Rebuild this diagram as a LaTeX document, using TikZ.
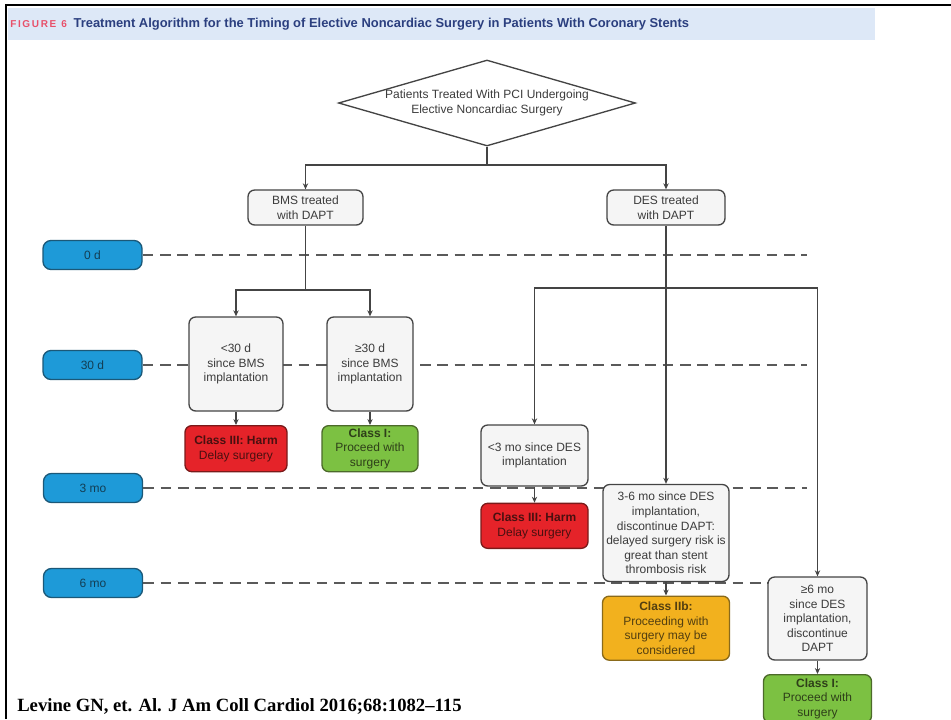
\documentclass[tikz,border=0pt]{standalone}
\usepackage{fontspec}
\setmainfont{Liberation Sans}
\newfontfamily\citefont{Liberation Serif}
\usetikzlibrary{shapes.geometric, arrows.meta, positioning}
\definecolor{titlebg}{HTML}{DDE8F7}
\definecolor{titlered}{HTML}{E8506A}
\definecolor{titleblue}{HTML}{2B3F7F}
\definecolor{lineclr}{HTML}{444444}
\definecolor{dashclr}{HTML}{5A5A5A}
\definecolor{boxfill}{HTML}{F5F5F5}
\definecolor{boxtext}{HTML}{3C3C3C}
\definecolor{timefill}{HTML}{1E9AD8}
\definecolor{timeline}{HTML}{1B5878}
\definecolor{harmfill}{HTML}{E52329}
\definecolor{harmline}{HTML}{7A1A1A}
\definecolor{okfill}{HTML}{7CC142}
\definecolor{okline}{HTML}{4C6A2A}
\definecolor{maybefill}{HTML}{F2B11E}
\definecolor{maybeline}{HTML}{8A6A1A}
\newcommand\flowfont{\fontsize{9}{10.9}\selectfont}
\tikzset{
boxsize/.style 2 args={minimum width=#1*0.75pt, minimum height=#2*0.75pt},
phase/.style={
    rectangle,
    draw=lineclr,
    fill=boxfill,
    rounded corners=5pt,
    line width=1pt,
    align=center,
    inner sep=1pt,
    text=boxtext,
    font=\flowfont
},
timebox/.style={
    rectangle,
    draw=timeline,
    fill=timefill,
    rounded corners=6pt,
    line width=1pt,
    boxsize={99}{29},
    text=timeline!70!black,
    font=\flowfont
},
harm/.style={phase, draw=harmline, fill=harmfill, text=harmline!60!black},
benefit/.style={phase, draw=okline, fill=okfill, text=okline!60!black},
maybe/.style={phase, draw=maybeline, fill=maybefill, text=maybeline!60!black},
timeline/.style={dashclr, line width=1.5pt, dash pattern=on 8pt off 5pt}
}

\begin{document}
\begin{tikzpicture}[
        x=0.75pt, y=-0.75pt,
        >={Stealth[length=4.5pt, width=4pt]},
        node distance=4pt
    ]
    \useasboundingbox (0,0) rectangle (951,719);

    % heading and frame
    \fill[titlebg] (8,8) rectangle (875,40);
    \draw[line width=2pt] (6,719) -- (6,5) -- (951,5);
    \node[anchor=west, inner sep=0pt, font=\fontsize{9.7}{11}\selectfont\bfseries] (title) at (10,24)
        {\textcolor{titlered}{\fontsize{7.5}{9}\selectfont F\,I\,G\,U\,R\,E\enspace 6}\hspace{5pt}\textcolor{titleblue}{Treatment Algorithm for the Timing of Elective Noncardiac Surgery in Patients With Coronary Stents}};
    \node[anchor=base west, inner sep=0pt, font=\citefont\fontsize{14}{16}\selectfont\bfseries] (cite) at (17,711)
        {Levine GN, et. Al. J Am Coll Cardiol 2016;68:1082–115};

    % time marks
    \node[timebox] (t0) at (92.5,255) {0 d};
    \node[timebox] (t30) at (92.5,365) {30 d};
    \node[timebox] (t3) at (93,488) {3 mo};
    \node[timebox] (t6) at (93,583) {6 mo};
    \coordinate (e0) at (807,254);
    \coordinate (e30) at (807,363);
    \coordinate (e3) at (807,486);
    \coordinate (e6) at (807,581);
    \draw[timeline] (t0.east) -- (t0.east -| e0);
    \draw[timeline] (t30.east) -- (t30.east -| e30);
    \draw[timeline] (t3.east) -- (t3.east -| e3);
    \draw[timeline] (t6.east) -- (t6.east -| e6);

    % node placement
    \node[diamond, draw=lineclr, fill=white, line width=1pt, inner sep=0pt, aspect=3.4,
          boxsize={297}{86}, align=center, text=boxtext, font=\flowfont] (PCI) at (487,103)
        {Patients Treated With PCI Undergoing\\Elective Noncardiac Surgery};

    \node[phase, boxsize={115}{35}] (BMS) at (305.5,207.5) {BMS treated\\with DAPT};
    \node[phase, boxsize={118}{35}] (DES) at (666,207.5) {DES treated\\with DAPT};

    \node[phase, boxsize={94}{94}] (B1) at (236,364) {<30 d\\since BMS\\implantation};
    \node[phase, boxsize={86}{94}] (B2) at (370,364) {≥30 d\\since BMS\\implantation};
    \node[harm, boxsize={102}{46}, below=10pt of B1] (H1) {\textbf{Class III: Harm}\\Delay surgery};
    \node[benefit, boxsize={96}{46}, below=10pt of B2] (G1) {\textbf{Class I:}\\Proceed with\\surgery};

    \node[phase, boxsize={107}{61}] (D1) at (534.5,455.5) {<3 mo since DES\\implantation};
    \node[harm, boxsize={107}{45}, below=12pt of D1] (H2) {\textbf{Class III: Harm}\\Delay surgery};
    \node[phase, boxsize={126}{97}] (D2) at (666,533) {3-6 mo since DES\\implantation,\\discontinue DAPT:\\delayed surgery risk is\\great than stent\\thrombosis risk};
    \node[maybe, boxsize={127}{64}, below=10pt of D2] (Y1) {\textbf{Class IIb:}\\Proceeding with\\surgery may be\\considered};
    \node[phase, boxsize={99}{83}] (D3) at (817.5,618.5) {≥6 mo\\since DES\\implantation,\\discontinue\\DAPT};
    \node[benefit, boxsize={108}{48}, below=10pt of D3] (G2) {\textbf{Class I:}\\Proceed with\\surgery};

    % edges
    \coordinate (s1) at (487,165);
    \coordinate (s2) at (305.5,290);
    \coordinate (s3) at (666,288);
    \draw[lineclr, line width=1pt] (PCI.south) -- (s1);
    \draw[->, lineclr, line width=1pt] (s1) -| (BMS.north);
    \draw[->, lineclr, line width=1pt] (s1) -| (DES.north);
    \draw[lineclr, line width=1pt] (BMS.south) -- (s2);
    \draw[->, lineclr, line width=1pt] (s2) -| (B1.north);
    \draw[->, lineclr, line width=1pt] (s2) -| (B2.north);
    \draw[->, lineclr, line width=1pt] (B1) -- (H1);
    \draw[->, lineclr, line width=1pt] (B2) -- (G1);
    \draw[lineclr, line width=1pt] (DES.south) -- (s3);
    \draw[->, lineclr, line width=1pt] (s3) -- (D2.north);
    \draw[->, lineclr, line width=1pt] (s3) -| (D1.north);
    \draw[->, lineclr, line width=1pt] (s3) -| (D3.north);
    \draw[->, lineclr, line width=1pt] (D1) -- (H2);
    \draw[->, lineclr, line width=1pt] (D2) -- (Y1);
    \draw[->, lineclr, line width=1pt] (D3) -- (G2);

\end{tikzpicture}
\end{document}
